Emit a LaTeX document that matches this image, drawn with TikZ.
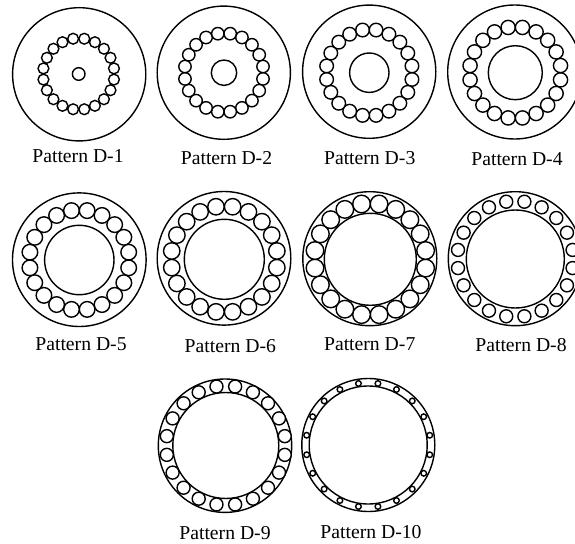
\documentclass[tikz,border=0pt]{standalone}
\usepackage{fontspec}
\setmainfont{Liberation Serif}
\tikzset{
	wheel/.style={line width=0.8pt, color=black},
	patternlabel/.style={anchor=base, inner sep=0pt, font=\fontsize{11.2pt}{13pt}\selectfont}
}
\def\ballring(#1,#2)(#3:#4){\foreach \ang in {9,27,...,351} {\draw[wheel, fill=white] ({#1+#3*cos(\ang)},{#2+#3*sin(\ang)}) circle (#4);}}

\begin{document}
\begin{tikzpicture}[x=0.02cm, y=-0.02cm]
	\useasboundingbox (0,0) rectangle (575,544);
	
	% outer x / outer y / outer r / inner x / inner y / inner r / ring r / ball r / label x / label y / number
	\foreach \outx/\outy/\outr/\inx/\iny/\inr/\ringr/\ballr/\labx/\laby/\num in {
		79.2/74.3/66.6/78.7/74/6.3/35.7/5.4/78/163/1,
		223.8/72.7/66.6/224/72.7/12.7/39.5/6.2/226.5/164.3/2,
		369.2/71.7/66.6/369.3/72.7/19.7/43.2/6.8/369.7/164.3/3,
		514.7/72/67/515.3/72.7/27/45.8/7.1/517/165.7/4,
		79.3/259.7/66.8/79.3/260/34.7/50/7.8/81/350.3/5,
		224/258.3/66.8/224.3/259.3/40/53.2/8.2/230.3/352.3/6,
		369.8/258.7/67/370.3/259.3/46/56/8.8/369.7/350.3/7,
		515.3/258.7/67/515.3/259/49/58/6.5/521/351.3/8,
		225/445.7/66.7/225.8/445.5/53/59.7/6.5/225/539.7/9,
		368.3/445/66.5/368.2/445/59/62.3/2.8/371/538/10} {
		\draw[wheel] (\outx,\outy) circle (\outr);
		\draw[wheel] (\inx,\iny) circle (\inr);
		\ballring(\inx,\iny)(\ringr:\ballr);
		\node[patternlabel] (label\num) at (\labx,\laby) {Pattern D-\num};
	}
\end{tikzpicture}
\end{document}
